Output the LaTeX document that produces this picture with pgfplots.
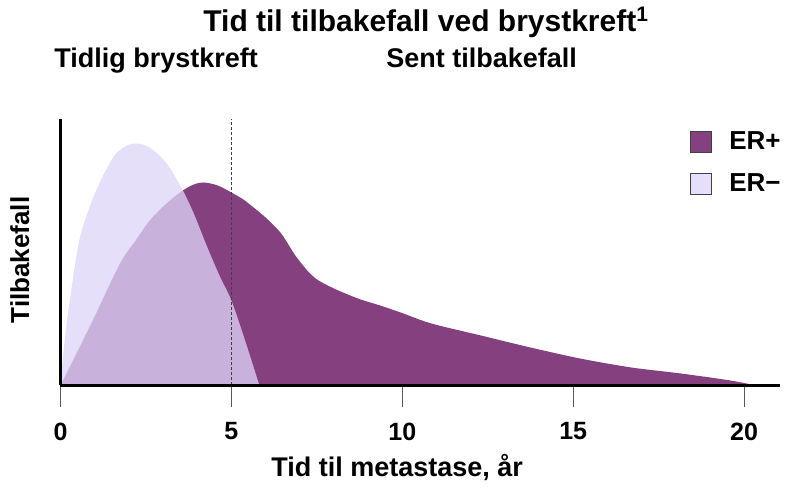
\documentclass[border=0pt]{standalone}
\usepackage{fontspec}
\setmainfont{Liberation Sans}
\usepackage{pgfplots}
\pgfplotsset{compat=1.18}
\definecolor{erpos}{RGB}{133,64,128}
\definecolor{erneg}{RGB}{222,213,248}

\begin{document}
\begin{tikzpicture}
\path[use as bounding box] (0,0) rectangle (400pt,244pt);
\begin{axis}[
    at={(30.25pt,51.25pt)}, anchor=south west,
    scale only axis, width=359.75pt, height=133.25pt,
    xmin=0, xmax=21.05, ymin=0, ymax=266.5,
    axis x line=bottom, axis y line=left,
    axis line style={-, line width=1.4pt, black},
    axis on top,
    xtick={0,5,10,15,20}, ytick=\empty,
    xtick align=outside, major tick length=11pt,
    xtick style={line width=0.6pt, color=black!65},
    xticklabel style={font=\fontsize{12.5}{12.5}\selectfont\bfseries, text=black, yshift=-4pt},
    /pgf/number format/assume math mode=true,
    clip=false,
    legend cell align=left,
    legend image code/.code={
        \draw[#1, draw=black!75, line width=0.5pt] (0pt,-0.3pt) rectangle (10.5pt,10.2pt);
        \path (19.5pt,0pt);
    },
    legend style={at={(0.8746,0.955)}, anchor=north west, draw=none, fill=none,
        inner sep=0pt, outer sep=0pt, row sep=10pt, column sep=0pt,
        font=\fontsize{13}{13}\selectfont\bfseries,
        nodes={inner sep=0pt, outer sep=0pt, yshift=5pt}},
]

% ER+ (sent tilbakefall)
\addplot[fill=erpos, draw=none, smooth, tension=0.5] coordinates {
    (0,0) (0.9,62) (1.74,122) (2.2,145) (2.61,165) (3.1,182) (3.58,195)
    (3.9,201) (4.2,203) (4.6,200) (5.0,193) (5.35,186) (5.65,178) (6.0,168)
    (6.33,157) (6.5,150) (6.65,142) (6.85,131) (7.05,122) (7.3,112) (7.55,105)
    (8.0,97) (8.7,87) (9.35,80) (9.95,73) (10.85,62) (12.3,50) (13.75,38)
    (15.2,27) (16.7,18) (18.15,12) (19.6,5) (20.35,0)
} \closedcycle;
\addlegendentry{ER+}

% ER- (tidlig)
\addplot[fill=erneg, fill opacity=0.76, draw=none, smooth, tension=0.5] coordinates {
    (0,0) (0.1,38) (0.25,80) (0.55,145) (0.9,183) (1.25,210) (1.6,231)
    (1.95,240) (2.2,242) (2.5,240) (2.8,233) (3.15,220) (3.55,197) (3.9,172)
    (4.25,142) (4.65,110) (5.0,85) (5.4,45) (5.82,0)
} \closedcycle;
\addlegendentry{ER−}

\addplot[forget plot, black!75, line width=0.5pt, dash pattern=on 1.5pt off 1pt]
    coordinates {(5,0) (5,266.5)};
\end{axis}

\node[anchor=base west, inner sep=0pt, font=\fontsize{15}{15}\selectfont\bfseries]
    at (101.5pt,228.15pt) {Tid til tilbakefall ved brystkreft\textsuperscript{1}};
\node[anchor=base west, inner sep=0pt, font=\fontsize{13.5}{13.5}\selectfont\bfseries]
    at (27pt,210pt) {Tidlig brystkreft};
\node[anchor=base west, inner sep=0pt, font=\fontsize{13.5}{13.5}\selectfont\bfseries]
    at (193pt,210pt) {Sent tilbakefall};
\node[anchor=base west, inner sep=0pt, font=\fontsize{13.5}{13.5}\selectfont\bfseries]
    at (135.5pt,5.5pt) {Tid til metastase, år};
\node[rotate=90, anchor=base, inner sep=0pt, font=\fontsize{13}{13}\selectfont\bfseries]
    at (14.5pt,114pt) {Tilbakefall};
\end{tikzpicture}
\end{document}
